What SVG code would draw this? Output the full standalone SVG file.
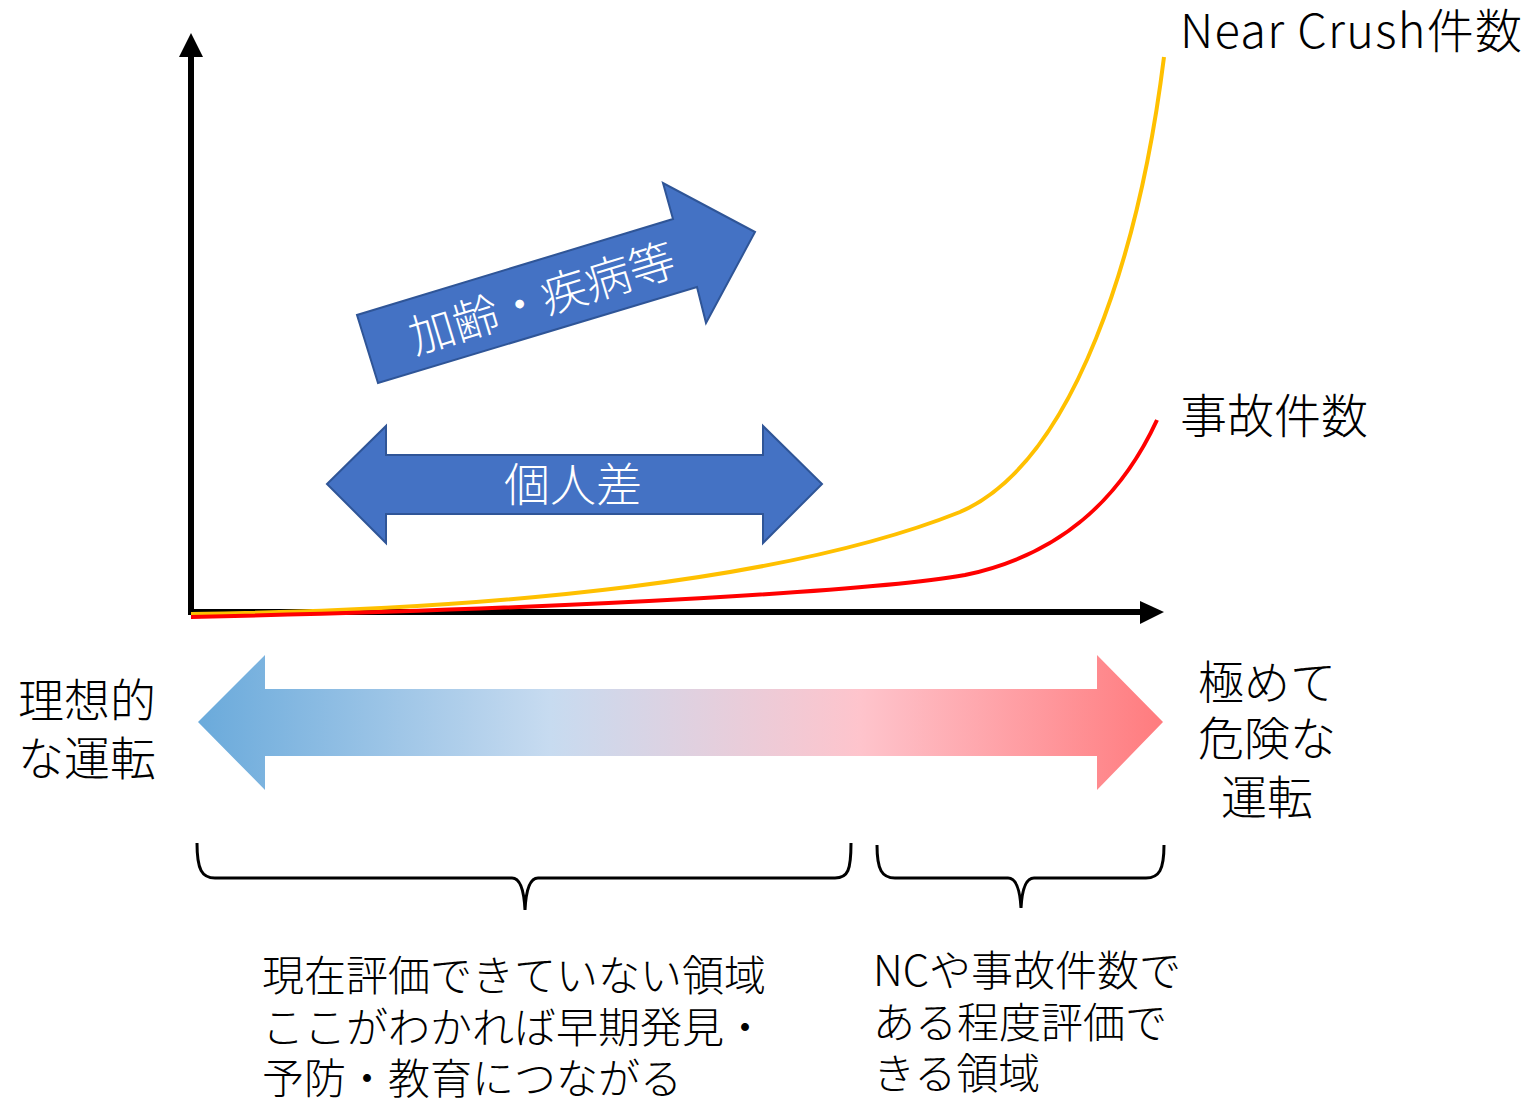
<svg xmlns="http://www.w3.org/2000/svg" width="1529" height="1099" viewBox="0 0 1529 1099">
<style>
text{font-family:"Noto Sans CJK JP","Noto Sans",sans-serif;font-weight:300;fill:#000}
.w{fill:#fff}
.blue{fill:#4472C4;stroke:#2F5597;stroke-width:2}
.ax{stroke:#000;stroke-width:6;fill:none}
.brace{stroke:#000;stroke-width:3;fill:none}
</style>
<defs>
<linearGradient id="g" x1="198" y1="0" x2="1163" y2="0" gradientUnits="userSpaceOnUse">
<stop offset="0" stop-color="#6AAADB"/>
<stop offset="0.365" stop-color="#C7DBF0"/>
<stop offset="0.686" stop-color="#FEC4CC"/>
<stop offset="1" stop-color="#FF7B7E"/>
</linearGradient>
</defs>
<g id="axes">
<line class="ax" x1="191" y1="614" x2="191" y2="55"/>
<polygon points="191,33 179,57 203,57"/>
<line class="ax" x1="188" y1="612" x2="1142" y2="612"/>
<polygon points="1164,612 1140,601 1140,624"/>
</g>
<g id="connectors">
<path d="M191,614 C500,610 790,580 960,512 C1075,462 1140,250 1164,57" fill="none" stroke="#FFC000" stroke-width="4"/>
<path d="M191,617 C600,608 880,590 965,575 C1060,555 1120,500 1157,420" fill="none" stroke="#FF0000" stroke-width="4"/>
</g>
<g id="aging">
<polygon class="blue" points="378,383 357,315 673,219 663,183 755,232 706,323 697,287"/>
<text class="w" x="0" y="0" font-size="46" text-anchor="middle" dominant-baseline="central" transform="translate(541,295) rotate(-17)">加齢・疾病等</text>
</g>
<g id="individual">
<polygon class="blue" points="327,484 386,426 386,455 763,455 763,426 822,484 763,543 763,514 386,514 386,543"/>
<text class="w" x="573" y="481" font-size="46" text-anchor="middle" dominant-baseline="central">個人差</text>
</g>
<g id="scale">
<polygon fill="url(#g)" points="198,722 265,655 265,689 1097,689 1097,655 1163,722 1097,790 1097,756 265,756 265,790"/>
</g>
<g id="braces">
<path class="brace" d="M197,843 C197,870 202,878 215,878 L512,878 C520,878 524,890 525,910 C526,890 530,878 538,878 L835,878 C848,878 851,870 851,843"/>
<path class="brace" d="M877,845 C877,870 882,878 895,878 L1008,878 C1016,878 1020,890 1021,908 C1022,890 1026,878 1034,878 L1146,878 C1159,878 1164,870 1164,845"/>
</g>
<g id="labels">
<text x="1180" y="48" font-size="47" textLength="342" lengthAdjust="spacing">Near Crush件数</text>
<text x="1180" y="433" font-size="47">事故件数</text>
<text x="18" y="717" font-size="46">理想的</text>
<text x="18" y="775" font-size="46">な運転</text>
<text x="1267" y="699" font-size="46" text-anchor="middle">極めて</text>
<text x="1267" y="755" font-size="46" text-anchor="middle">危険な</text>
<text x="1267" y="814" font-size="46" text-anchor="middle">運転</text>
<text x="262" y="991" font-size="42">現在評価できていない領域</text>
<text x="262" y="1043" font-size="42">ここがわかれば早期発見・</text>
<text x="262" y="1094" font-size="42">予防・教育につながる</text>
<text x="873" y="986" font-size="42">NCや事故件数で</text>
<text x="873" y="1038" font-size="42">ある程度評価で</text>
<text x="873" y="1089" font-size="42">きる領域</text>
</g>
</svg>
